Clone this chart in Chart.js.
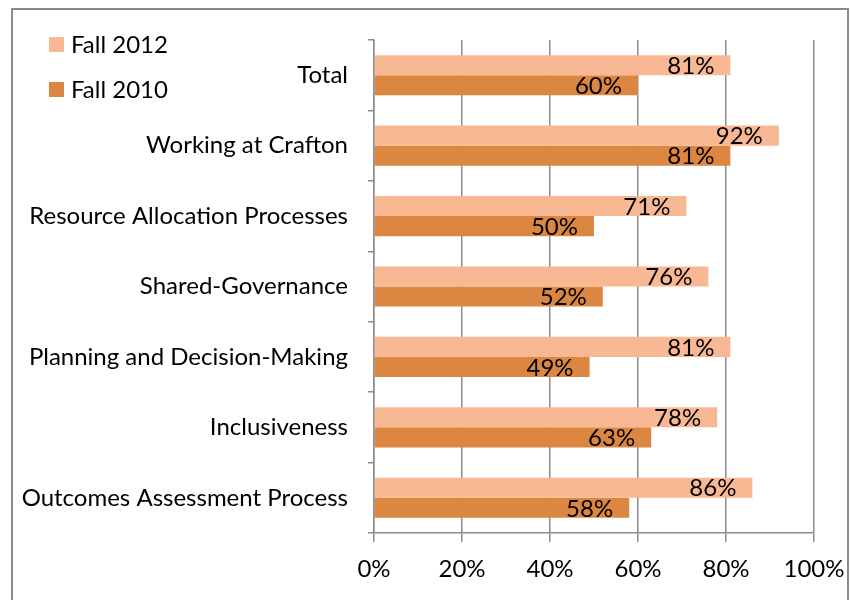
<!DOCTYPE html>
<html>
<head>
<meta charset="utf-8">
<script src="https://cdn.jsdelivr.net/npm/chart.js@4"></script>
<style>
html,body{margin:0;padding:0;background:#fff;}
#wrap{width:850px;height:600px;position:relative;}
</style>
</head>
<body>
<div id="wrap"><canvas id="c" width="850" height="600"></canvas></div>
<script>
const categories = ["Total","Working at Crafton","Resource Allocation Processes","Shared-Governance","Planning and Decision-Making","Inclusiveness","Outcomes Assessment Process"];
const fall2012 = [81,92,71,76,81,78,86];
const fall2010 = [60,81,50,52,49,63,58];
const seriesNames = ["Fall 2012","Fall 2010"];
const xTicks = [0,20,40,60,80,100];

const FONT = "Lato, Carlito, Calibri, sans-serif";
const FS = 24;
const COL12 = "#F9B894";
const COL10 = "#DC8741";
const GRID = "#8C8C8C";

const frame = {
  id:'frame',
  beforeDraw(chart){
    const ctx = chart.ctx;
    ctx.save();
    ctx.fillStyle = '#fff';
    ctx.fillRect(0,0,chart.width,chart.height);
    ctx.strokeStyle = '#8a8a8a';
    ctx.lineWidth = 2;
    ctx.strokeRect(12, 9, 836, 620);
    ctx.restore();
  }
};

const labels = {
  id:'labels',
  afterDatasetsDraw(chart){
    const ctx = chart.ctx;
    ctx.save();
    ctx.font = FS + "px " + FONT;
    ctx.fillStyle = "#000";
    ctx.textAlign = "right";
    ctx.textBaseline = "middle";
    chart.data.datasets.forEach((ds,i)=>{
      const meta = chart.getDatasetMeta(i);
      meta.data.forEach((el,j)=>{
        ctx.fillText(ds.data[j] + "%", el.x - 16, el.y + 1);
      });
    });
    ctx.restore();
  }
};

const legendPlugin = {
  id:'customLegend',
  afterDraw(chart){
    const ctx = chart.ctx;
    ctx.save();
    ctx.font = FS + "px " + FONT;
    ctx.textAlign = "left";
    ctx.textBaseline = "middle";
    const ys = [44, 89];
    chart.data.datasets.forEach((ds,i)=>{
      ctx.fillStyle = ds.backgroundColor;
      ctx.fillRect(49, ys[i]-7, 15, 15);
      ctx.fillStyle = "#000";
      ctx.fillText(ds.label, 71, ys[i]+1);
    });
    ctx.restore();
  }
};

new Chart(document.getElementById('c'), {
  type:'bar',
  data:{
    labels: categories,
    datasets:[
      {label: seriesNames[0], data: fall2012, backgroundColor: COL12},
      {label: seriesNames[1], data: fall2010, backgroundColor: COL10}
    ]
  },
  options:{
    indexAxis:'y',
    responsive:false,
    animation:false,
    devicePixelRatio:1,
    categoryPercentage:0.57,
    barPercentage:1.0,
    layout:{padding:{top:40,right:36,left:0,bottom:0}},
    plugins:{legend:{display:false},tooltip:{enabled:false}},
    scales:{
      x:{
        min:0,max:100,
        afterBuildTicks(s){ s.ticks = xTicks.map(v=>({value:v})); },
        afterFit(s){ s.height = 67; s.paddingLeft = 0; s.paddingRight = 0; },
        ticks:{callback:(v)=>v+"%", font:{size:FS,family:FONT}, color:"#000", padding:13, maxRotation:0},
        grid:{color:GRID, lineWidth:1.5, tickLength:9, drawTicks:true},
        border:{color:GRID, width:1.5}
      },
      y:{
        afterFit(s){ s.width = 374; s.paddingTop = 0; s.paddingBottom = 0; },
        ticks:{font:{size:FS,family:FONT}, color:"#000", padding:20},
        grid:{offset:true, drawOnChartArea:false, drawTicks:true, tickLength:6, color:GRID, lineWidth:1.5},
        border:{color:GRID, width:1.5}
      }
    }
  },
  plugins:[frame, labels, legendPlugin]
});
</script>
</body>
</html>
